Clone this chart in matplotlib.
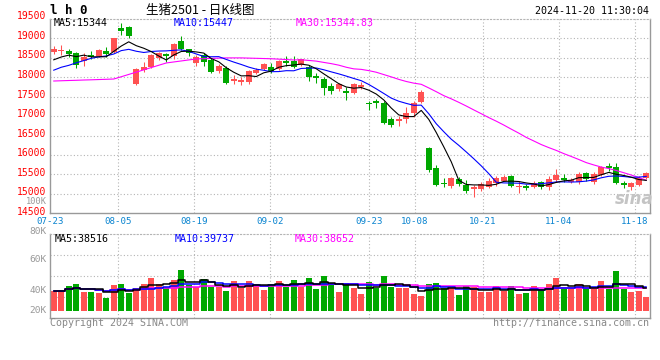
import matplotlib
matplotlib.use("Agg")
import matplotlib.pyplot as plt
import numpy as np

# LH2501 daily bars, 2024-07-23 .. 2024-11-20
opens = [18660, 18665, 18677, 18617, 18412, 18574, 18548, 18685, 18651, 19270,
         19300, 17830, 18190, 18273, 18490, 18590, 18548, 18934, 18720, 18380,
         18570, 18445, 18150, 18230, 17905, 17870, 17870, 18100, 18205, 18273,
         18205, 18427, 18427, 18316, 18273, 18042, 17947, 17776, 17699, 17656,
         17604, 17759, 17331, 17390, 17347, 16927, 16867, 16918, 17090, 17356,
         16173, 15658, 15288, 15203, 15383, 15229, 15118, 15118, 15186, 15271,
         15340, 15460, 15169, 15203, 15169, 15314, 15169, 15357, 15417, 15314,
         15314, 15529, 15314, 15486, 15717, 15683, 15271, 15169, 15229, 15400]
highs = [18810, 18820, 18720, 18643, 18617, 18677, 18720, 18787, 19010, 19390,
         19320, 18230, 18400, 18600, 18660, 18634, 18874, 19060, 18740, 18570,
         18617, 18490, 18330, 18290, 18059, 17999, 18200, 18230, 18360, 18360,
         18440, 18548, 18548, 18480, 18316, 18102, 18016, 17861, 17861, 17759,
         17850, 17880, 17390, 17434, 17390, 16970, 17004, 17244, 17390, 17680,
         16214, 15743, 15400, 15430, 15430, 15357, 15229, 15300, 15400, 15460,
         15480, 15490, 15320, 15250, 15330, 15340, 15460, 15632, 15500, 15400,
         15560, 15570, 15560, 15720, 15800, 15800, 15330, 15300, 15450, 15560]
lows = [18590, 18580, 18530, 18247, 18290, 18463, 18520, 18530, 18620, 19090,
        19000, 17800, 18144, 18250, 18440, 18400, 18463, 18700, 18560, 18300,
        18290, 18100, 18100, 17830, 17827, 17802, 17830, 18080, 18180, 18100,
        18180, 18290, 18240, 18290, 17913, 17845, 17545, 17570, 17650, 17416,
        17580, 17700, 17158, 17202, 16800, 16729, 16747, 16832, 16980, 17330,
        15572, 15203, 15169, 15160, 15190, 15014, 14928, 15080, 15150, 15203,
        15320, 15180, 15014, 15100, 15140, 15130, 15110, 15314, 15300, 15270,
        15250, 15340, 15250, 15450, 15600, 15250, 15160, 15100, 15200, 15370]
closes = [18730, 18695, 18592, 18316, 18514, 18514, 18702, 18600, 19003, 19200,
          19060, 18205, 18270, 18574, 18630, 18550, 18848, 18720, 18617, 18530,
          18400, 18145, 18300, 17860, 17945, 17930, 18170, 18190, 18342, 18162,
          18427, 18375, 18273, 18463, 18016, 17974, 17717, 17648, 17827, 17588,
          17819, 17802, 17305, 17331, 16832, 16773, 16918, 17090, 17331, 17630,
          15615, 15229, 15254, 15400, 15254, 15074, 15169, 15254, 15340, 15400,
          15443, 15203, 15203, 15160, 15271, 15186, 15374, 15486, 15357, 15357,
          15511, 15383, 15511, 15700, 15658, 15271, 15229, 15288, 15400, 15546]
# volume, thousand lots
volume_k = [33.8, 33.8, 41.7, 45.1, 32.2, 32.2, 30.5, 22.2, 43.4, 45.1,
            29.3, 37.8, 45.1, 55.8, 45.1, 38.0, 52.0, 68.0, 43.0, 40.0,
            53.0, 40.0, 40.0, 33.0, 50.0, 38.0, 50.0, 45.0, 35.0, 45.0,
            50.0, 40.0, 52.0, 40.0, 55.0, 37.0, 58.0, 43.0, 32.2, 47.4,
            39.0, 27.6, 49.1, 39.0, 59.2, 40.6, 39.0, 37.8, 27.6, 25.4,
            45.1, 47.4, 37.8, 37.8, 26.5, 41.7, 39.5, 32.2, 32.2, 41.7,
            33.3, 41.7, 28.2, 30.5, 41.7, 36.1, 45.1, 55.8, 36.1, 36.1,
            45.1, 36.1, 36.1, 50.2, 36.1, 67.1, 36.1, 32.2, 33.3, 23.7]
# closes of the 29 sessions before 07-23, read back from the MA lines
prior_closes = [18500, 18400, 18150, 18300, 18350, 18500, 18400, 18800,
                17430, 17290, 16435, 16500, 16800, 16860, 16780, 18070,
                17940, 17840, 17750, 18200, 17945, 18100, 17660, 17945,
                17930, 18334, 18354, 18506, 18326]

tick_idx = [0, 9, 19, 29, 42, 48, 57, 67, 77]
tick_labels = ["07-23", "08-05", "08-19", "09-02", "09-23", "10-08",
               "10-21", "11-04", "11-18"]
price_ticks = list(range(14500, 20000, 500))

RED = "#ff5252"
GREEN = "#00a800"
FRAME = "#999999"
GRID = "#b4b4b4"
MONO = "DejaVu Sans Mono"
W, H = 660, 360

n = len(closes)
x = np.arange(n)
o = np.array(opens); c = np.array(closes)
up = c >= o
cols = np.where(up, RED, GREEN)

allc = np.array(prior_closes + closes, dtype=float)
off = len(prior_closes)
def sma(n_):
    return np.array([allc[off + k - n_ + 1: off + k + 1].mean() for k in range(n)])

vol = np.array(volume_k)
def vma(n_):
    return np.array([vol[max(0, k - n_ + 1): k + 1].mean() for k in range(n)])

def fx(px):
    return px / W
def fy(py):
    return 1 - py / H

fig = plt.figure(figsize=(6.6, 3.6), dpi=100)
ax = fig.add_axes([fx(50), fy(213.3), 600 / W, (213.3 - 19) / H])
axv = fig.add_axes([fx(50), fy(318), 600 / W, (318 - 234.3) / H])

# sina places its date grid on a slightly different step than the bars
grid_x = [i * n / (n - 1) - 0.5 for i in tick_idx]

for a in (ax, axv):
    a.set_xlim(-0.5, n - 0.5)
    a.set_xticks([]); a.set_yticks([])
    for s in ("left", "right", "bottom"):
        a.spines[s].set_color(FRAME)
        a.spines[s].set_linewidth(1.0)
    a.spines["top"].set_color(GRID)
    a.spines["top"].set_linestyle((0, (1, 2)))
    a.spines["top"].set_linewidth(0.8)
    for gx in grid_x[1:]:
        a.axvline(gx, color=GRID, lw=0.8, ls=(0, (1, 2)), zorder=0)

# price panel
ax.set_ylim(14500, 19500)
for p in price_ticks[1:-1]:
    ax.axhline(p, color=GRID, lw=0.8, ls=(0, (1, 2)), zorder=0)
ax.vlines(x, lows, highs, colors=cols, lw=0.75, zorder=2)
body_lo = np.minimum(o, c)
body_h = np.maximum(np.abs(c - o), 28)
ax.bar(x, body_h, bottom=body_lo, width=0.8, color=cols, lw=0, zorder=2)
ax.plot(x, sma(30), color="#ff00ff", lw=0.8, zorder=3)
ax.plot(x, sma(10), color="#0000ff", lw=0.8, zorder=3)
ax.plot(x, sma(5), color="black", lw=0.8, zorder=3)

# volume panel: bars from zero, 1.69K per pixel
axv.set_ylim(-(318 - 310.7) * 1.69, (310.7 - 234.3) * 1.69)
for q in (0.25, 0.5, 0.75):
    axv.axhline(axv.get_ylim()[0] + q * np.diff(axv.get_ylim())[0],
                color=GRID, lw=0.8, ls=(0, (1, 2)), zorder=0)
axv.bar(x, vol, width=0.8, color=cols, lw=0, zorder=2)
axv.plot(x, vma(30), color="#ff00ff", lw=1.1, drawstyle="steps-mid", zorder=3)
axv.plot(x, vma(10), color="#0000ff", lw=1.1, drawstyle="steps-mid", zorder=3)
axv.plot(x, vma(5), color="black", lw=1.1, drawstyle="steps-mid", zorder=3)

# price labels (sina draws them on their own step)
for i, p in enumerate(price_ticks):
    fig.text(fx(46.5), fy(211.8 - 19.55 * i), str(p), color="#ff0000",
             family=MONO, fontsize=7.0, ha="right", va="center")
for lab, py, fs in [("100K", 202.0, 6.2), ("80K", 231.8, 6.8), ("60K", 260, 6.8),
                    ("40K", 290.5, 6.8), ("20K", 310.5, 6.8)]:
    fig.text(fx(46.5), fy(py), lab, color="#999999", family=MONO,
             fontsize=fs, ha="right", va="center")

# date labels
for gx, lab in zip(grid_x, tick_labels):
    px = 50 + 7.5 * (gx + 0.5)
    fig.text(fx(px), fy(221.9), lab, color="#0a84d0", family=MONO,
             fontsize=6.6, ha="center", va="center")

# header
fig.text(fx(50), fy(10), "l h 0", family=MONO, fontweight="bold",
         fontsize=9, ha="left", va="center")
fig.text(fx(200), fy(10), "生猪2501 - 日K线图", family=["Noto Sans CJK SC", "DejaVu Sans"],
         fontsize=9, ha="center", va="center")
fig.text(fx(649), fy(11.5), "2024-11-20 11:30:04", family=MONO,
         fontsize=7.2, ha="right", va="center")

# MA legends
for txt, px, col in [("MA5:15344", 54, "black"), ("MA10:15447", 174, "#0000ff"),
                     ("MA30:15344.83", 295.5, "#ff00ff")]:
    fig.text(fx(px), fy(23.5), txt, color=col, family=MONO, fontsize=7.2,
             ha="left", va="center")
for txt, px, col in [("MA5:38516", 55, "black"), ("MA10:39737", 175, "#0000ff"),
                     ("MA30:38652", 295, "#ff00ff")]:
    fig.text(fx(px), fy(238.5), txt, color=col, family=MONO, fontsize=7.2,
             ha="left", va="center")

# watermark + footer
fig.text(fx(634), fy(199), "sina", color="#c4c4c4", fontsize=12,
         fontweight="bold", style="italic", ha="center", va="center")
fig.text(fx(50), fy(323.3), "Copyright 2024 SINA.COM", color="#888888",
         family=MONO, fontsize=7.2, ha="left", va="center")
fig.text(fx(649), fy(323.3), "http://finance.sina.com.cn", color="#888888",
         family=MONO, fontsize=7.2, ha="right", va="center")

fig.savefig("out.png", dpi=100)
